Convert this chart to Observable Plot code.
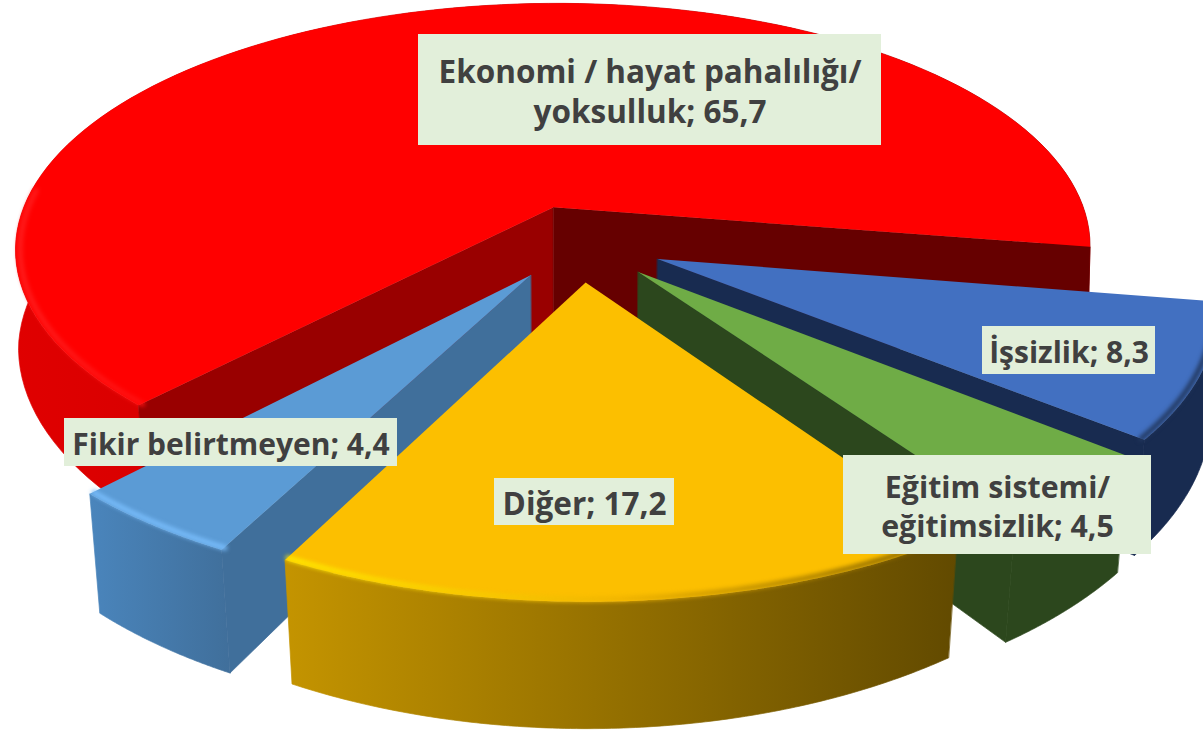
<!DOCTYPE html>
<html><head><meta charset="utf-8">
<script src="https://cdn.jsdelivr.net/npm/d3@7"></script>
<script src="https://cdn.jsdelivr.net/npm/@observablehq/plot@0.6"></script>
<style>html,body{margin:0;padding:0;background:#fff;overflow:hidden}svg{display:block}</style>
</head><body><div id="chart"></div>
<script>
// data
const categories = ["İşsizlik","Eğitim sistemi/\neğitimsizlik","Diğer","Fikir belirtmeyen","Ekonomi / hayat pahalılığı/\nyoksulluk"];
const values = [8.3,4.5,17.2,4.4,65.7];
const valueLabels = ["8,3","4,5","17,2","4,4","65,7"];
// colours
const topColors = ["#4270c1","#6fac46","#fcbf00","#5b9bd5","#ff0000"];
const wallTones = [["#182b50","#182b50"],["#2c471d","#2c471d"],["#c49400","#624a00"],["#4a85bc","#406f9b"],["#e00000","#a80000"]];
const cutColors = ["#182b50","#2c471d",null,"#406f9b","#660000"];
const rimColors = [["#22385f","#22385f"],null,["#ffe800","#f0b400","#7a5c00"],["#78bcfa","#78bcfa"],["#ff1c1c","#ff1010"]];
// layout of the label boxes
const labelBoxes = [[982,326,1155,374],[843,455,1151,554],[494,478,674,525],[64,418,397,466],[418,34,881,145]];
const labelSizes = [30,30.3,31.5,30,31.5];
// view of the pie
const cx=580, cy=243, R=543, p=0.17, k=0.46, explode=84, H=102, startDeg=99.3;

const project=(u,v,z=0)=>{
  const s=1/(1+p*v/R), q=0.005+0.018*Math.max(0,-v/R), f=1-q*z/H;
  return {x:cx+u*s*f,y:cy-k*v*s+z*s};
};
const pie=d3.pie().sort(null).startAngle(startDeg*Math.PI/180).endAngle((startDeg+360)*Math.PI/180)(values);
const slices=pie.map(d=>{
  const mid=(d.startAngle+d.endAngle)/2;
  return {a0:d.startAngle,a1:d.endAngle,ou:explode*Math.sin(mid),ov:explode*Math.cos(mid),i:d.index};
});
const at=(s,a,r,z)=>project(s.ou+r*Math.sin(a),s.ov+r*Math.cos(a),z);
const angles=s=>d3.range(0,121).map(i=>s.a0+(s.a1-s.a0)*i/120);

const defs=()=>{
  const d=d3.create("svg:defs");
  const grad=(id,c)=>{const g=d.append("linearGradient").attr("id",id);
    const n=c.length-1;
    c.forEach((col,j)=>g.append("stop").attr("offset",`${j/n*100}%`).attr("stop-color",col));};
  wallTones.forEach((c,i)=>grad("wall"+i,c));
  rimColors.forEach((c,i)=>{if(c)grad("rim"+i,c);});
  return d.node();
};

const marks=[defs];
[4,0,1,3,2].forEach(i=>{
  const s=slices[i];
  const outer=angles(s).map(a=>({t:at(s,a,R,0),b:at(s,a,R,H)}));
  const xy={x1:d=>d.t.x,y1:d=>d.t.y,x2:d=>d.b.x,y2:d=>d.b.y};
  // the big slice's cut faces reach deeper at its apex, so nothing white shows behind the others
  const cut=(a,color,deep=H)=>marks.push(Plot.area([[0,deep],[R,H]].map(([r,z])=>({t:at(s,a,r,0),b:at(s,a,r,z)})),{...xy,fill:color,stroke:color,strokeWidth:0.7}));
  // outer wall
  marks.push(Plot.area(outer,{...xy,fill:`url(#wall${i})`,stroke:`url(#wall${i})`,strokeWidth:0.7}));
  // cut faces that look towards the viewer
  if(i===4){cut(s.a0,"#990000",H*1.4);cut(s.a1,cutColors[i],H*1.4);}
  else if(i===3){cut(s.a0,cutColors[i]);}
  else if(cutColors[i]){cut(s.a1,cutColors[i]);}
  // top face
  const apex=at(s,0,0,0);
  marks.push(Plot.area(outer,{x1:()=>apex.x,y1:()=>apex.y,x2:d=>d.t.x,y2:d=>d.t.y,fill:topColors[i]}));
  // rim highlight on the edges facing the viewer
  if(rimColors[i]){
    const as=angles(s).filter(a=>i!==4||a<275*Math.PI/180);
    marks.push(Plot.line(as.map(a=>at(s,a,R-4,0)),{x:"x",y:"y",stroke:`url(#rim${i})`,strokeWidth:5,imageFilter:"blur(2px)"}));
  }
});

const labels=categories.map((c,i)=>{const b=labelBoxes[i];return {text:`${c}; ${valueLabels[i]}`,size:labelSizes[i],x1:b[0],y1:b[1],x2:b[2],y2:b[3]};});
marks.push(Plot.rect(labels,{x1:"x1",x2:"x2",y1:"y1",y2:"y2",fill:"#e2efda"}));
marks.push(Plot.text(labels,{x:d=>(d.x1+d.x2)/2,y:d=>(d.y1+d.y2)/2,text:"text",fill:"#404040",fontSize:d=>d.size,fontWeight:700,fontFamily:"Open Sans",lineHeight:1.27,lineAnchor:"middle"}));

document.getElementById("chart").append(Plot.plot({
  width:1203,height:730,margin:0,
  x:{domain:[0,1203],range:[0,1203],axis:null},
  y:{domain:[0,730],range:[0,730],axis:null},
  style:{background:"#fff"},
  marks
}));
</script></body></html>
